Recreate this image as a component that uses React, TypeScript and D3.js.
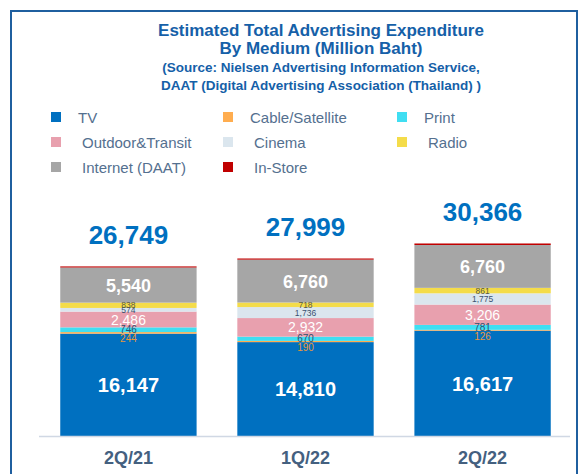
import React, { useEffect, useRef } from 'react';
import * as d3 from 'd3';

const categories = ['2Q/21', '1Q/22', '2Q/22'];
const seriesNames = ['TV', 'Cable/Satellite', 'Print', 'Outdoor&Transit', 'Cinema', 'Radio', 'Internet (DAAT)', 'In-Store'];
const tv = [16147, 14810, 16617];
const cable = [244, 190, 126];
const print = [746, 670, 781];
const outdoor = [2486, 2932, 3206];
const cinema = [574, 1736, 1775];
const radio = [838, 718, 861];
const internet = [5540, 6760, 6760];
const inStore = [174, 183, 240];
const totals = [26749, 27999, 30366];

const colors = ['#0070c0', '#ffad4f', '#40def2', '#e8a0ae', '#dbe6ee', '#f4dc4a', '#a6a6a6', '#c00000'];
// label look per series: [font size, weight, color, y offset]
const labelStyle: [number, string, string, number][] = [
  [20, 'bold', '#ffffff', 0],
  [10, 'normal', '#e8963a', 6],
  [10, 'normal', '#2f4f6f', 0],
  [14, 'normal', '#ffffff', 0],
  [8.5, 'normal', '#3a5070', 0],
  [8.5, 'normal', '#5a5a40', 0],
  [18, 'bold', '#ffffff', 0],
];

const App = () => {
  const svgRef = useRef<SVGSVGElement>(null);

  useEffect(() => {
    const svg = d3.select(svgRef.current);
    svg.selectAll('*').remove();
    const font = '"Liberation Sans", Arial, sans-serif';

    svg.append('rect').attr('x', 11).attr('y', 11).attr('width', 566).attr('height', 470)
      .attr('fill', 'none').attr('stroke', '#1f5f9f').attr('stroke-width', 2);

    const titleLines = [
      ['Estimated Total Advertising Expenditure', 17],
      ['By Medium (Million Baht)', 17],
      ['(Source: Nielsen Advertising Information Service,', 13.5],
      ['DAAT (Digital Advertising Association (Thailand) )', 13.5],
    ];
    titleLines.forEach(([t, s], i) => {
      svg.append('text').attr('x', 321).attr('y', 36 + i * 18).attr('text-anchor', 'middle')
        .attr('font-family', font).attr('font-weight', 'bold').attr('font-size', s as number)
        .attr('fill', '#1560a8').text(t as string);
    });

    // legend
    const legX = [51, 223, 397];
    seriesNames.forEach((name, i) => {
      const col = i % 3, row = Math.floor(i / 3);
      const g = svg.append('g').attr('transform', `translate(${legX[col]},${117 + row * 25})`);
      g.append('rect').attr('x', 0).attr('y', -5).attr('width', 10).attr('height', 10).attr('fill', colors[i]);
      g.append('text').attr('x', row === 0 ? 27 : 31).attr('y', 5.5).attr('font-family', font)
        .attr('font-size', 15).attr('fill', '#54708f').text(name);
    });

    const rows = categories.map((c, i) => ({
      cat: c,
      vals: [tv[i], cable[i], print[i], outdoor[i], cinema[i], radio[i], internet[i], inStore[i]],
    }));
    const keys = d3.range(seriesNames.length);
    const stack = d3.stack<any, number>().keys(keys).value((d, k) => d.vals[k]);
    const stacked = stack(rows);

    const x = d3.scaleBand().domain(categories).range([39, 572]).paddingInner(0.23).paddingOuter(0.12);
    const y = d3.scaleLinear().domain([0, 31000]).range([436, 436 - 31000 * 0.00634]);

    stacked.forEach((layer, k) => {
      svg.append('g').selectAll('rect').data(layer).join('rect')
        .attr('x', (d) => x(d.data.cat)!)
        .attr('width', x.bandwidth())
        .attr('y', (d) => y(d[1]))
        .attr('height', (d) => y(d[0]) - y(d[1]))
        .attr('fill', colors[k]);
    });

    stacked.forEach((layer, k) => {
      if (k >= labelStyle.length) return;
      const [fs, fw, fc, off] = labelStyle[k];
      svg.append('g').selectAll('text').data(layer).join('text')
        .attr('x', (d) => x(d.data.cat)! + x.bandwidth() / 2)
        .attr('y', (d) => (y(d[0]) + y(d[1])) / 2 + fs * 0.36 + off)
        .attr('text-anchor', 'middle')
        .attr('font-family', font).attr('font-size', fs).attr('font-weight', fw).attr('fill', fc)
        .text((d) => d3.format(',')(d.data.vals[k]));
    });

    svg.append('g').selectAll('text').data(categories).join('text')
      .attr('x', (c) => x(c)! + x.bandwidth() / 2)
      .attr('y', (c, i) => y(totals[i]) - 22)
      .attr('text-anchor', 'middle').attr('font-family', font).attr('font-size', 26)
      .attr('font-weight', 'bold').attr('fill', '#0070c0')
      .text((c, i) => d3.format(',')(totals[i]));

    svg.append('line').attr('x1', 39).attr('x2', 570).attr('y1', 436.5).attr('y2', 436.5)
      .attr('stroke', '#d0d8e4').attr('stroke-width', 1.5);

    svg.append('g').selectAll('text').data(categories).join('text')
      .attr('x', (c) => x(c)! + x.bandwidth() / 2)
      .attr('y', 464)
      .attr('text-anchor', 'middle').attr('font-family', font).attr('font-size', 18)
      .attr('font-weight', 'bold').attr('fill', '#44607f')
      .text((c) => c);
  }, []);

  return (
    <svg ref={svgRef} width={579} height={474} style={{ position: 'absolute', left: 0, top: 0, background: '#fff' }} />
  );
};

export default App;
